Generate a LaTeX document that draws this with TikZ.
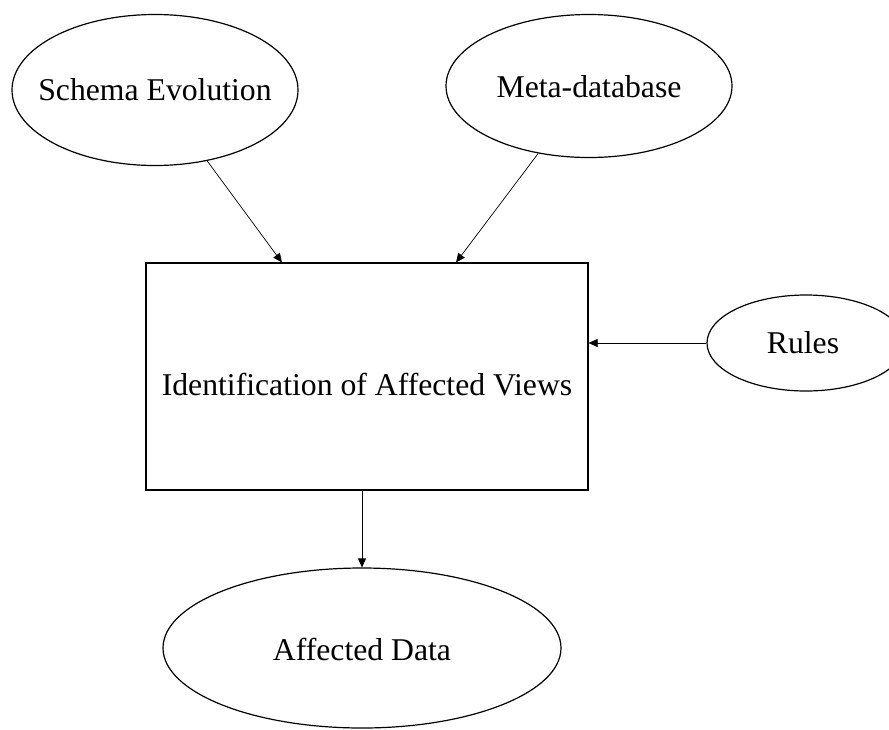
\documentclass[tikz,border=0pt]{standalone}
\usepackage{fontspec}
\setmainfont{Liberation Serif}
\usepackage{tikz}
\usetikzlibrary{shapes.geometric,arrows.meta,calc}

\tikzset{
  bubble/.style={draw, ellipse, inner sep=0pt, line width=1.2pt},
  stepbox/.style={draw, rectangle, inner sep=0pt, line width=1.2pt},
  lbl/.style={inner sep=0pt, anchor=base, font=\fontsize{31.7}{38}\selectfont},
  arr/.style={-{Triangle[length=9pt,width=8pt]}, line width=0.7pt}
}

\begin{document}
\begin{tikzpicture}[x=1pt, y=-1pt]
		\useasboundingbox (0,0) rectangle (889,729);
		\node[bubble, minimum width=286pt, minimum height=151pt] (schema) at (155,90) {};
		\node[bubble, minimum width=286pt, minimum height=143pt] (meta) at (589,86) {};
		\node[bubble, minimum width=198pt, minimum height=96pt] (rules) at (806,343) {};
		\node[bubble, minimum width=398pt, minimum height=160pt] (data) at (362,648) {};
		\node[stepbox, minimum width=442pt, minimum height=227pt] (box) at (367,376.5) {};
		\node[lbl] (schematxt) at (155,100) {Schema Evolution};
		\node[lbl] (metatxt) at (589,97) {Meta-database};
		\node[lbl] (rulestxt) at (803,353) {Rules};
		\node[lbl] (boxtxt) at (367,395) {Identification of Affected Views};
		\node[lbl] (datatxt) at (362,660) {Affected Data};
		\coordinate (inA) at ($(box.north west)!0.308!(box.north east)$);
		\coordinate (inB) at ($(box.north west)!0.701!(box.north east)$);
		\draw[arr] (schema) -- (inA);
		\draw[arr] (meta) -- (inB);
		\draw[arr] (rules.west) -- (rules.west -| box.east);
		\draw[arr] (box.south -| data.north) -- (data.north);
	\end{tikzpicture}
\end{document}
